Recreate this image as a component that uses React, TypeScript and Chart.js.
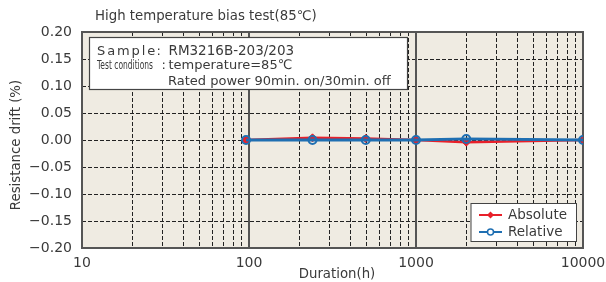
import React, { useEffect, useRef } from "react";
import { Chart, registerables } from "chart.js";

Chart.register(...registerables);

const durations = [96, 240, 500, 1000, 2000, 10000];
const absoluteDrift = [0, 0.004, 0.003, 0, -0.004, 0];
const relativeDrift = [0, 0, 0, 0, 0.002, 0];
const xTickValues = [10, 100, 1000, 10000];
const xMinorValues = [20, 30, 40, 50, 60, 70, 80, 90, 200, 300, 400, 500, 600, 700, 800, 900, 2000, 3000, 4000, 5000, 6000, 7000, 8000, 9000];
const yGridValues = [-0.15, -0.1, -0.05, 0, 0.05, 0.1, 0.15];
const seriesLabels = ["Absolute", "Relative"];
const chartTitle = "High temperature bias test(85℃)";
const xTitle = "Duration(h)";
const yTitle = "Resistance drift (%)";
const noteSample = "RM3216B-203/203";
const noteTemp = "temperature=85℃";
const notePower = "Rated power 90min. on/30min. off";

const RED = "#e8202a";
const BLUE = "#1f6fb2";
const TEXT = "#3a3a3a";
const FONT = "DejaVu Sans";

const decorPlugin = {
  id: "decor",
  beforeDatasetsDraw(chart: any) {
    const { ctx, chartArea: a, scales } = chart;
    const xs = scales.x, ys = scales.y;
    ctx.save();
    ctx.fillStyle = "#efebe2";
    ctx.fillRect(a.left, a.top, a.right - a.left, a.bottom - a.top);
    ctx.strokeStyle = "#222";
    ctx.lineWidth = 1;
    ctx.setLineDash([4, 2]);
    for (const v of yGridValues) {
      const y = Math.round(ys.getPixelForValue(v)) + 0.5;
      ctx.beginPath();
      ctx.moveTo(a.left, y);
      ctx.lineTo(a.right, y);
      ctx.stroke();
    }
    for (const v of xMinorValues) {
      const x = Math.round(xs.getPixelForValue(v)) + 0.5;
      ctx.beginPath();
      ctx.moveTo(x, a.top);
      ctx.lineTo(x, a.bottom);
      ctx.stroke();
    }
    ctx.setLineDash([]);
    ctx.strokeStyle = "#555";
    ctx.lineWidth = 2;
    for (const v of xTickValues.slice(1, -1)) {
      const x = Math.round(xs.getPixelForValue(v));
      ctx.beginPath();
      ctx.moveTo(x, a.top);
      ctx.lineTo(x, a.bottom);
      ctx.stroke();
    }
    ctx.strokeRect(a.left, a.top, a.right - a.left, a.bottom - a.top);
    ctx.restore();
  },
  afterDatasetsDraw(chart: any) {
    const { ctx } = chart;
    ctx.save();
    // note box
    ctx.fillStyle = "#fff";
    ctx.fillRect(89.5, 37.5, 318, 52);
    ctx.strokeStyle = "#444";
    ctx.lineWidth = 1.2;
    ctx.strokeRect(89.5, 37.5, 318, 52);
    ctx.fillStyle = TEXT;
    ctx.textBaseline = "alphabetic";
    ctx.font = `13px "${FONT}"`;
    (ctx as any).letterSpacing = "1.9px";
    ctx.fillText("Sample", 97, 55);
    (ctx as any).letterSpacing = "0px";
    ctx.fillText(":", 156.5, 55);
    ctx.font = `13.5px "${FONT}"`;
    ctx.fillText(noteSample, 168.5, 55);
    ctx.save();
    ctx.translate(97, 68.5);
    ctx.scale(0.58, 1);
    ctx.font = `13px "${FONT}"`;
    ctx.fillText("Test conditions", 0, 0);
    ctx.restore();
    ctx.font = `13px "${FONT}"`;
    ctx.fillText(":", 161.5, 68.5);
    ctx.fillText(noteTemp, 168.5, 68.5);
    ctx.fillText(notePower, 168, 84.5);

    // legend
    ctx.fillStyle = "#fff";
    ctx.fillRect(471, 203.5, 105.5, 38);
    ctx.strokeStyle = "#444";
    ctx.lineWidth = 1;
    ctx.strokeRect(471, 203.5, 105.5, 38);
    const rows = [
      { y: 215, color: RED, label: seriesLabels[0], marker: "diamond" },
      { y: 232, color: BLUE, label: seriesLabels[1], marker: "circle" },
    ];
    for (const r of rows) {
      ctx.strokeStyle = r.color;
      ctx.lineWidth = 2;
      ctx.beginPath();
      ctx.moveTo(479, r.y);
      ctx.lineTo(502, r.y);
      ctx.stroke();
      if (r.marker === "diamond") {
        ctx.fillStyle = r.color;
        ctx.beginPath();
        ctx.moveTo(490.5, r.y - 3.5);
        ctx.lineTo(494, r.y);
        ctx.lineTo(490.5, r.y + 3.5);
        ctx.lineTo(487, r.y);
        ctx.closePath();
        ctx.fill();
      } else {
        ctx.fillStyle = "#fff";
        ctx.lineWidth = 1.5;
        ctx.beginPath();
        ctx.arc(490.5, r.y, 3, 0, Math.PI * 2);
        ctx.fill();
        ctx.stroke();
      }
      ctx.fillStyle = TEXT;
      ctx.font = `13.5px "${FONT}"`;
      ctx.textBaseline = "middle";
      ctx.fillText(r.label, 508, r.y);
    }
    ctx.restore();
  },
  afterDraw(chart: any) {
    const { ctx } = chart;
    ctx.save();
    ctx.fillStyle = TEXT;
    ctx.font = `13.3px "${FONT}"`;
    ctx.textBaseline = "middle";
    ctx.textAlign = "left";
    ctx.fillText(chartTitle, 95, 17);
    ctx.textAlign = "center";
    ctx.fillText(xTitle, 337, 275);
    ctx.translate(17, 145);
    ctx.rotate(-Math.PI / 2);
    ctx.fillText(yTitle, 0, 0);
    ctx.restore();
  },
};

export default function App() {
  const ref = useRef<HTMLCanvasElement>(null);
  useEffect(() => {
    if (!ref.current) return;
    const chart = new Chart(ref.current, {
      type: "line",
      data: {
        datasets: [
          {
            label: seriesLabels[0],
            data: durations.map((d, i) => ({ x: d, y: absoluteDrift[i] })),
            borderColor: RED,
            backgroundColor: RED,
            borderWidth: 2.5,
            pointStyle: "rectRot",
            pointRadius: 4,
            pointBorderWidth: 1,
            pointBackgroundColor: RED,
            order: 1,
          },
          {
            label: seriesLabels[1],
            data: durations.map((d, i) => ({ x: d, y: relativeDrift[i] })),
            borderColor: BLUE,
            backgroundColor: BLUE,
            borderWidth: 2.8,
            pointStyle: "circle",
            pointRadius: 4,
            pointBorderWidth: 2,
            pointBackgroundColor: "rgba(255,255,255,0)",
            order: 0,
          },
        ],
      },
      options: {
        responsive: false,
        animation: false,
        events: [],
        layout: { padding: { left: 0, top: 32, right: 23, bottom: 0 } },
        plugins: { legend: { display: false }, tooltip: { enabled: false }, title: { display: false } },
        scales: {
          x: {
            type: "logarithmic",
            min: 10,
            max: 10000,
            grid: { display: false, drawTicks: false },
            border: { display: false },
            afterBuildTicks: (s: any) => {
              s.ticks = xTickValues.map((v) => ({ value: v }));
            },
            afterFit: (s: any) => {
              s.height = 34;
              s.paddingLeft = 0;
              s.paddingRight = 0;
            },
            ticks: {
              autoSkip: false,
              maxRotation: 0,
              padding: 7,
              color: TEXT,
              font: { family: FONT, size: 14 },
              callback: (v: any) => String(v),
            },
          },
          y: {
            min: -0.2,
            max: 0.2,
            grid: { display: false, drawTicks: false },
            border: { display: false },
            afterFit: (s: any) => {
              s.width = 82;
              s.paddingTop = 0;
              s.paddingBottom = 0;
            },
            ticks: {
              stepSize: 0.05,
              padding: 10,
              color: TEXT,
              font: { family: FONT, size: 14 },
              callback: (v: any) => {
                const n = Number(v);
                if (Math.abs(n) < 1e-9) return "0.00";
                return (n < 0 ? "−" : "") + Math.abs(n).toFixed(2);
              },
            },
          },
        },
      },
      plugins: [decorPlugin],
    } as any);
    return () => chart.destroy();
  }, []);
  return (
    <div style={{ position: "fixed", left: 0, top: 0, width: 606, height: 282, background: "#fff" }}>
      <canvas ref={ref} width={606} height={282} style={{ display: "block" }} />
    </div>
  );
}
